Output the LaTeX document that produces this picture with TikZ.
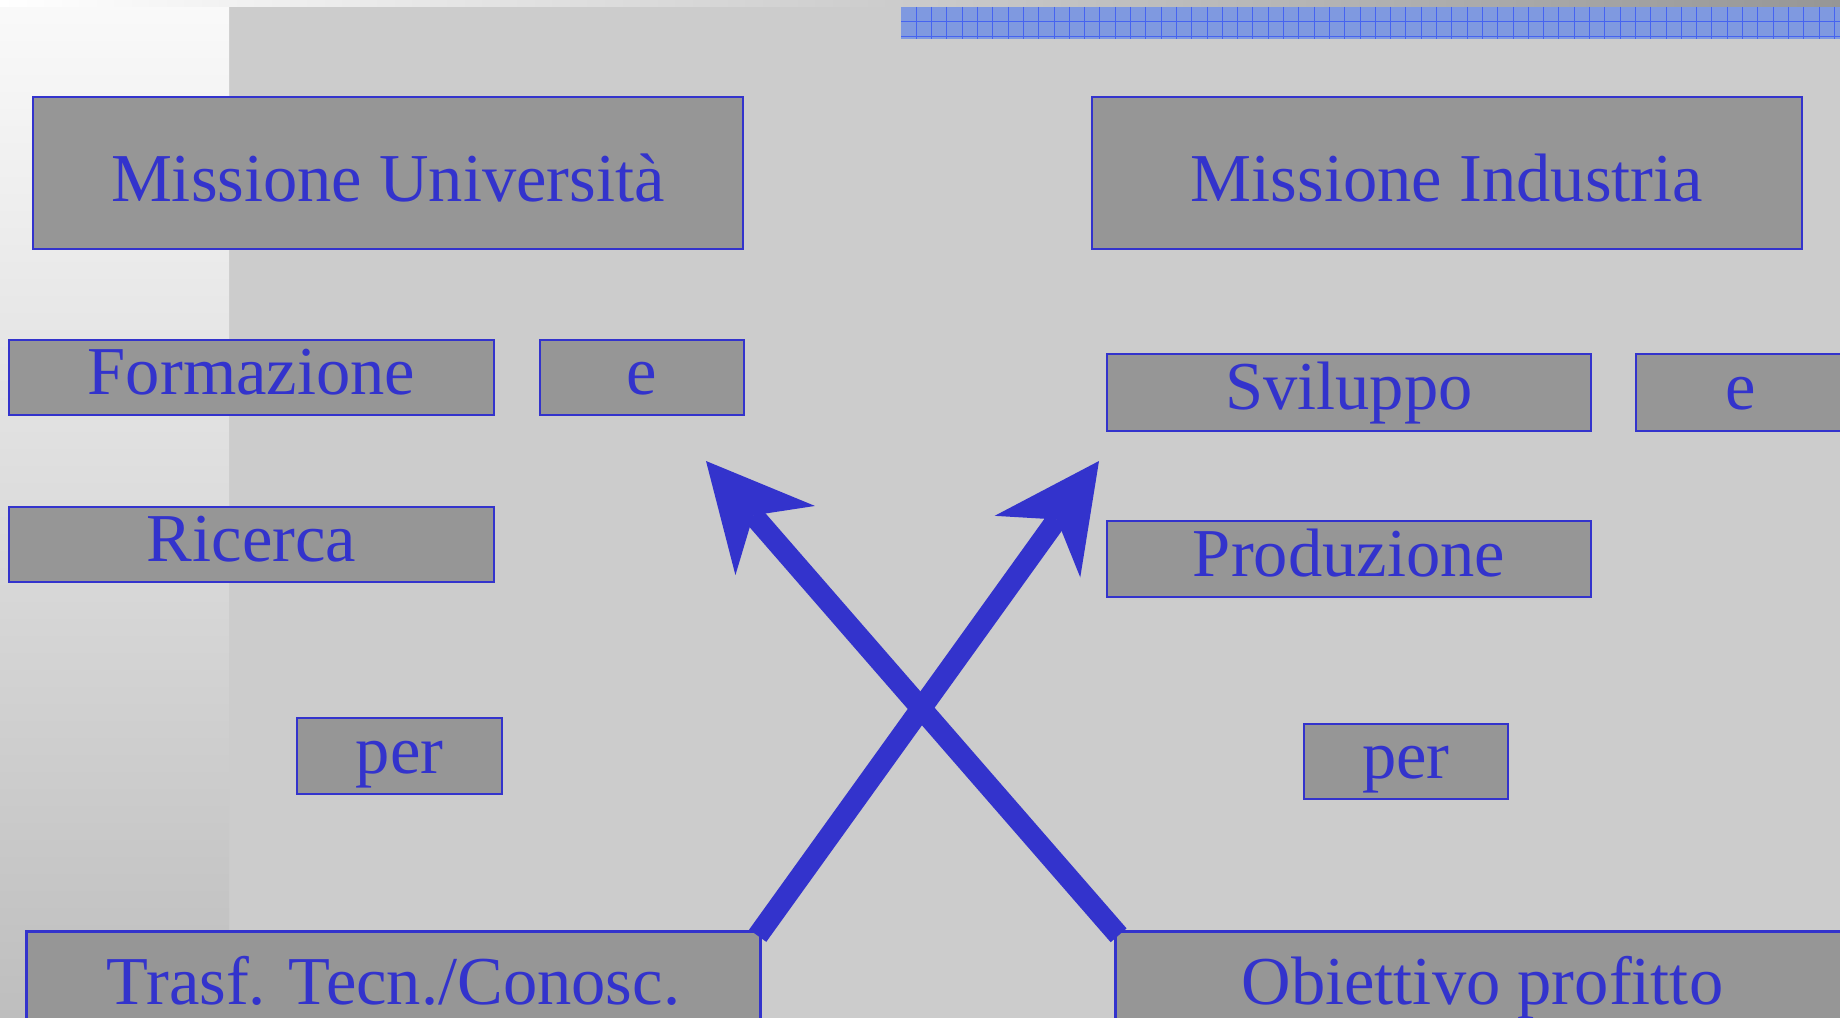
\documentclass[tikz,border=0pt]{standalone}
\usepackage{fontspec}
\setmainfont{Liberation Serif}
\usetikzlibrary{arrows.meta}
\definecolor{slideblue}{RGB}{51,51,204}
\definecolor{boxgray}{RGB}{150,150,150}
\definecolor{slidegray}{RGB}{204,204,204}
\definecolor{barblue}{RGB}{127,153,224}
\definecolor{gridblue}{RGB}{70,100,240}
\definecolor{stripgray}{RGB}{190,190,190}

\begin{document}
\begin{tikzpicture}[x=2mm,y=2mm,
  every node/.style={inner sep=0pt},
  box/.style={draw=slideblue, line width=1.6pt, fill=boxgray, text=slideblue,
    font=\fontsize{39}{46}\selectfont, text height=28pt, text depth=8.6pt},
  titlebox/.style={box, text height=32pt, text depth=0pt,
    minimum width=14.2cm, minimum height=3.04cm},
  bigarrow/.style={draw=slideblue, line width=12pt, shorten <=-4pt,
    -{Stealth[length=60pt, width=60pt, inset=19pt, line width=0pt]}}]
\useasboundingbox (0,0) rectangle (184,-101.8);
\fill[slidegray] (0,0) rectangle (184,-101.8);
\shade[top color=white!98!black, bottom color=stripgray] (0,0) rectangle (22.9,-101.8);
\shade[left color=white, right color=boxgray] (0,0) rectangle (184,-0.7);
\fill[barblue] (90.1,-0.7) rectangle (184,-3.9);
\foreach \k in {1,...,61}
  \draw[gridblue, line width=0.5pt] (90.1+1.53*\k,-0.7) -- ++(0,-3.2);
\draw[gridblue, line width=0.5pt] (90.1,-2.17) -- (184,-2.17) (90.1,-3.63) -- (184,-3.63);
\node[titlebox] (mU) at (38.8,-17.3) {Missione Università};
\node[titlebox] (mI) at (144.7,-17.3) {Missione Industria};
\node[box, minimum width=9.7cm, minimum height=1.5cm] (form) at (25.15,-37.75) {Formazione};
\node[box, minimum width=4.08cm, minimum height=1.5cm] (eU) at (64.2,-37.75) {e};
\node[box, minimum width=9.7cm, minimum height=1.5cm] (ric) at (25.15,-54.45) {Ricerca};
\node[box, minimum width=4.1cm, minimum height=1.52cm] (perU) at (39.95,-75.6) {per};
\node[box, minimum width=9.68cm, minimum height=1.54cm] (svil) at (134.9,-39.25) {Sviluppo};
\node[box, minimum width=4.2cm, minimum height=1.54cm] (eI) at (174.1,-39.25) {e};
\node[box, minimum width=9.68cm, minimum height=1.52cm] (prod) at (134.9,-55.9) {Produzione};
\node[box, minimum width=4.08cm, minimum height=1.5cm] (perI) at (140.6,-76.15) {per};
\node[box, anchor=north west, minimum width=14.68cm, minimum height=2.24cm] (trasf) at (2.5,-93) {Trasf. Tecn./Conosc.};
\node[box, anchor=north west, minimum width=14.68cm, minimum height=2.24cm] (obj) at (111.4,-93) {Obiettivo profitto};
\coordinate (tipU) at (70.6,-46.1);
\coordinate (tipI) at (109.9,-46.1);
\draw[bigarrow] (trasf.north east) -- (tipI);
\draw[bigarrow] (obj.north west) -- (tipU);
\end{tikzpicture}
\end{document}
